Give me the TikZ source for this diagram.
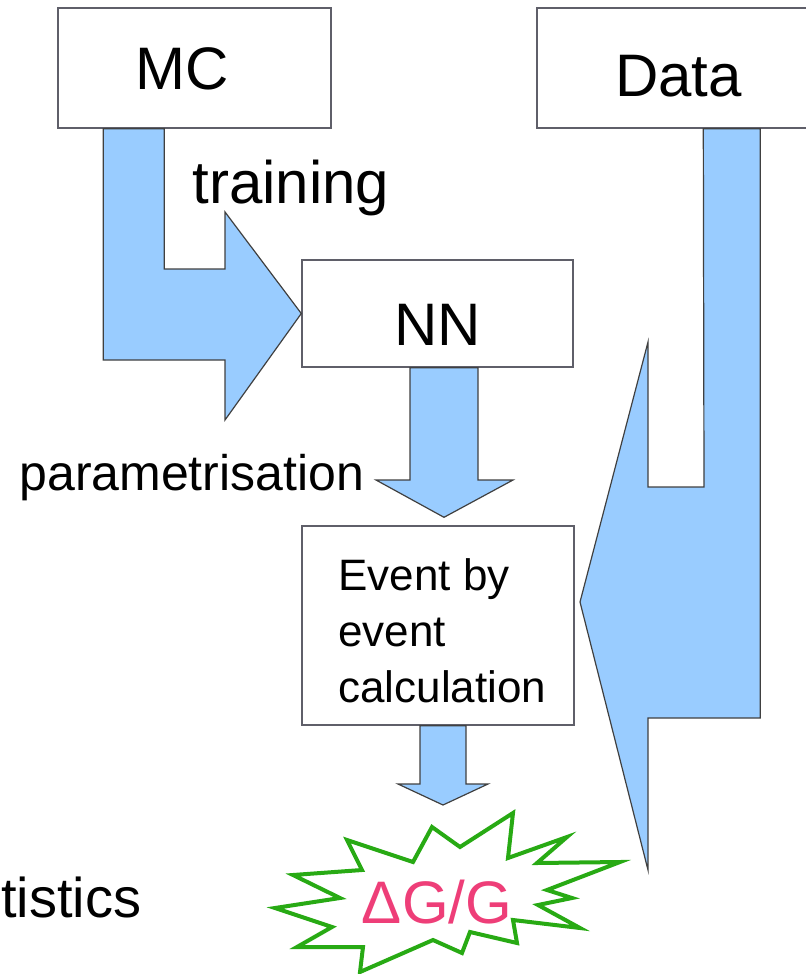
\documentclass[tikz,border=0pt]{standalone}
\usepackage{fontspec}
\setmainfont{Liberation Sans}
\usepackage{xcolor}
\usetikzlibrary{calc}
\definecolor{flowblue}{RGB}{153,204,255}
\definecolor{boxgray}{RGB}{95,95,105}
\definecolor{burstgreen}{RGB}{40,170,20}
\definecolor{burstpink}{RGB}{238,62,120}

\tikzset{
  box/.style={draw=boxgray,line width=0.7pt,fill=white,inner sep=0pt},
  flow/.style={draw=black!75,line width=0.6pt,fill=flowblue,line join=miter},
  txt/.style={inner sep=0pt,anchor=base},
  bigtxt/.style={font=\fontsize{30}{36}\selectfont},
}

\begin{document}
\begin{tikzpicture}[x=0.5pt,y=-0.5pt]
\useasboundingbox (0,0) rectangle (805,974);
% boxes
\node[box,minimum width=136.5pt,minimum height=60pt] (mc) at (194.5,68) {};
\node[box,minimum width=139pt,minimum height=60pt] (data) at (676,68) {};
\node[box,minimum width=135.5pt,minimum height=53.5pt] (nn) at (437.5,313.5) {};
\node[box,minimum width=136pt,minimum height=99.5pt] (evt) at (438,625.5) {};
\node[txt,bigtxt] (mctext) at (182.5,90) {MC};
\node[txt,bigtxt] (datatext) at (678.5,97) {Data};
\node[txt,bigtxt] (nntext) at (437.5,345) {NN};
\node[inner sep=0pt,anchor=north west,align=left,font=\fontsize{22}{28}\selectfont]
  (evttext) at (338,558) {Event by\\event\\calculation};

% MC -> NN
\draw[flow] ($(mc.south west)+(46,0)$) |- (225,360) -- (225,420) -- (nn.west)
  -- (225,212) -- (225,269) -| ($(mc.south west)+(107,0)$) -- cycle;
% NN -> event
\draw[flow] ($(nn.south)+(-27.5,0)$) -- (410,480) -- (376,480) -- ($(evt.north)+(6,-8)$)
  -- (513,480) -- (478,480) -- ($(nn.south)+(40.5,0)$) -- cycle;
% event -> result
\draw[flow] ($(evt.south)+(-18,0)$) -- (420,784) -- (398,784) -- (443,805)
  -- (488,784) -- (466,784) -- ($(evt.south)+(28,0)$) -- cycle;
% data -> event
\draw[flow] ($(data.south west)+(167,0)$) -- (704,487) -- (648,487) -- (648,342)
  -- (580,602) -- (648,870) -- (648,718) -| ($(data.south west)+(224,0)$) -- cycle;

\node[txt,bigtxt,anchor=base west] (trainlbl) at (192,203) {training};
\node[txt,font=\fontsize{25}{30}\selectfont,anchor=base west] (paramlbl) at (19,490) {parametrisation};
\node[txt,font=\fontsize{28}{34}\selectfont,anchor=base west] (statlbl) at (1,917) {tistics};

% result burst
\draw[burstgreen,line width=2pt,fill=white,line join=miter]
  (275,908) -- (340,898) -- (293,875) -- (362,870) -- (347,840) -- (413,862)
  -- (432,827) -- (460,847) -- (513,813) -- (508,858) -- (567,837) -- (537,863)
  -- (620,862) -- (547,890) -- (572,898) -- (538,905) -- (580,928) -- (513,920)
  -- (517,943) -- (470,932) -- (462,953) -- (433,940) -- (360,972) -- (363,947)
  -- (297,947) -- (332,927) -- cycle;
\node[txt,bigtxt,text=burstpink] (dg) at (437,923) {ΔG/G};
\end{tikzpicture}
\end{document}
